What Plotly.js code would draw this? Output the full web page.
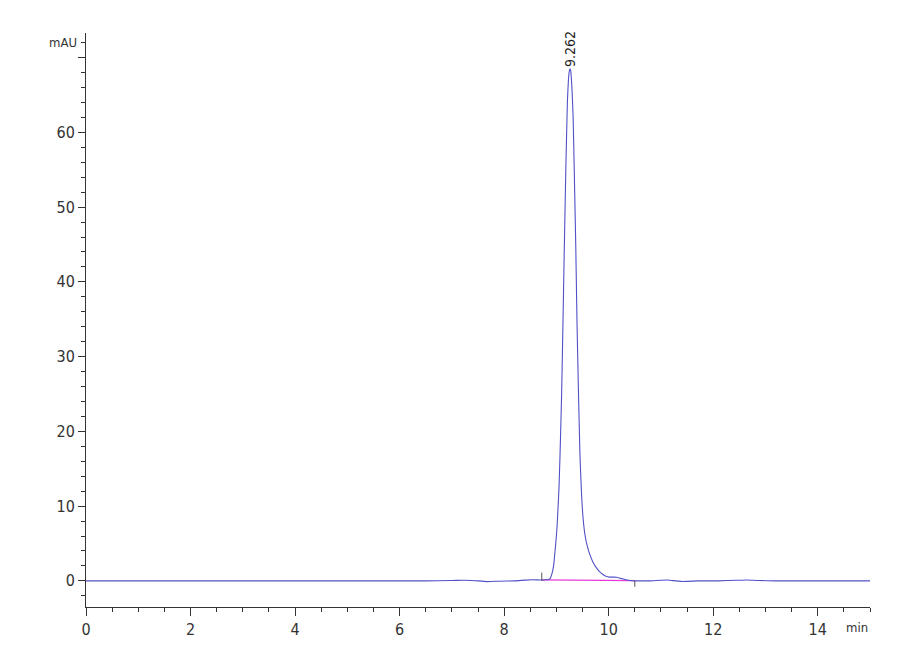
<!DOCTYPE html>
<html>
<head>
<meta charset="utf-8">
<script src="https://cdn.plot.ly/plotly-3.0.1.min.js"></script>
<style>
  html, body { margin: 0; padding: 0; background: #fff; }
  #chart { width: 900px; height: 660px; }
</style>
</head>
<body>
<div id="chart"></div>
<script>
/* ── Chromatogram (Plotly.js) ── */

// retention time (min) and signal (mAU)
const TIME = [
    0, 2.5, 5.0, 6.5, 7.0, 7.2, 7.4, 7.67, 7.9, 8.2, 8.4, 8.55, 8.7, 8.8, 8.86,
    8.88, 8.92, 8.95, 8.97, 9.00, 9.02, 9.05, 9.07, 9.10, 9.126, 9.15, 9.18, 9.21, 9.23, 9.25, 9.262,
    9.275, 9.30, 9.32, 9.35, 9.37, 9.394, 9.42, 9.45, 9.48, 9.51, 9.55, 9.60, 9.64, 9.70, 9.77, 9.83, 9.89,
    9.95, 10.02, 10.10, 10.15, 10.22, 10.28, 10.35, 10.40, 10.5, 10.6, 10.8,
    11.0, 11.1, 11.2, 11.4, 11.7, 12.1, 12.45, 12.65, 12.85, 13.2, 14.0, 15.0,
];
const SIGNAL = [
    0, 0, 0, 0, 0.05, 0.08, 0.05, -0.1, -0.05, 0, 0.1, 0.15, 0.12, 0.15, 0.2,
    0.3, 1.1, 2.2, 3.7, 6.0, 8.2, 12.5, 17, 25, 34.7, 44, 55, 64, 67, 68.3, 68.5,
    68.2, 65.5, 62, 52, 45, 34.7, 26, 17, 11.8, 8.4, 6.0, 4.4, 3.5, 2.5, 1.7, 1.2, 0.85,
    0.6, 0.5, 0.5, 0.48, 0.35, 0.25, 0.12, 0.05, 0, 0, 0,
    0.08, 0.12, 0.05, -0.08, 0, 0, 0.08, 0.12, 0.05, 0, 0, 0,
];

// integration baseline and peak start/end marks
const BASE_X = [8.72, 10.5];
const BASE_Y = [0.13, 0.02];
const START_MARK_X = [8.72, 8.72];
const START_MARK_Y = [0, 1.1];
const END_MARK_X = [10.5, 10.5];
const END_MARK_Y = [0, -0.8];

const PEAK_RT = 9.262;
const PEAK_H = 68.5;

const Y_TICKS = [0, 10, 20, 30, 40, 50, 60, 70];
const Y_LABELS = ['0', '10', '20', '30', '40', '50', '60', ''];

const FONT = 'Liberation Sans Narrow, DejaVu Sans Condensed, Arial Narrow, Liberation Sans, sans-serif';
const INK = '#333';

const traces = [
    {
        x: BASE_X, y: BASE_Y, mode: 'lines',
        line: { color: '#e838d8', width: 1.2 },
        hoverinfo: 'skip',
    },
    {
        x: TIME, y: SIGNAL, mode: 'lines',
        line: { color: '#5050c8', width: 1.1, shape: 'spline', smoothing: 0.4 },
        hoverinfo: 'x+y',
    },
    {
        x: START_MARK_X, y: START_MARK_Y, mode: 'lines',
        line: { color: '#555', width: 1 },
        hoverinfo: 'skip',
    },
    {
        x: END_MARK_X, y: END_MARK_Y, mode: 'lines',
        line: { color: '#555', width: 1 },
        hoverinfo: 'skip',
    },
];

const layout = {
    width: 900, height: 660,
    margin: { l: 86, r: 30, t: 33, b: 53 },
    paper_bgcolor: '#fff',
    plot_bgcolor: '#fff',
    showlegend: false,
    font: { family: FONT, size: 16, color: INK },
    xaxis: {
        range: [0, 15],
        dtick: 2, tick0: 0,
        showgrid: false, zeroline: false,
        showline: true, linecolor: INK, linewidth: 1,
        ticks: 'outside', ticklen: 8, tickcolor: INK,
        minor: { dtick: 0.5, tick0: 0, ticks: 'outside', ticklen: 4, tickcolor: INK },
        tickfont: { family: FONT, size: 16, color: INK },
    },
    yaxis: {
        range: [-3.5, 73.3],
        tickmode: 'array', tickvals: Y_TICKS, ticktext: Y_LABELS,
        showgrid: false, zeroline: false,
        showline: true, linecolor: INK, linewidth: 1,
        ticks: 'outside', ticklen: 7, tickcolor: INK,
        minor: { dtick: 2, tick0: 0, ticks: 'outside', ticklen: 4, tickcolor: INK },
        tickfont: { family: FONT, size: 16, color: INK },
    },
    annotations: [
        {
            x: PEAK_RT, y: PEAK_H, xref: 'x', yref: 'y',
            text: PEAK_RT.toFixed(3), textangle: -90,
            xanchor: 'center', yanchor: 'bottom',
            showarrow: false, font: { family: FONT, size: 14, color: '#222' },
        },
        {
            x: 0, y: 72, xref: 'paper', yref: 'y',
            text: 'mAU', xanchor: 'right', yanchor: 'middle', xshift: -7,
            showarrow: false, font: { family: FONT, size: 13, color: INK },
        },
        {
            x: 15, y: 0, xref: 'x', yref: 'paper',
            text: 'min', xanchor: 'right', yanchor: 'middle', yshift: -20,
            showarrow: false, font: { family: FONT, size: 13, color: INK },
        },
    ],
};

Plotly.newPlot('chart', traces, layout, { displayModeBar: false, staticPlot: true });
</script>
</body>
</html>
